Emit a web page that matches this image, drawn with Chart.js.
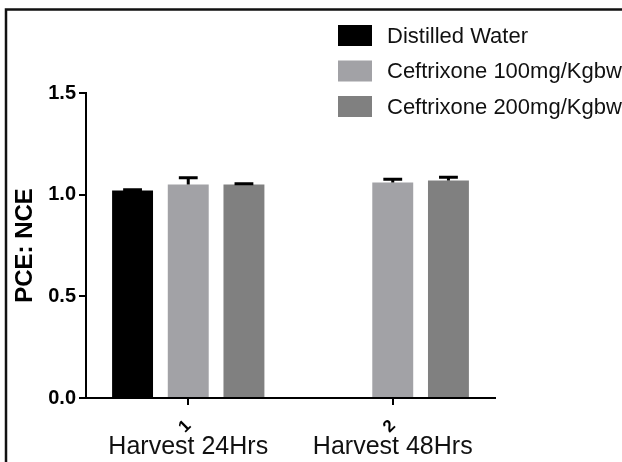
<!DOCTYPE html>
<html>
<head>
<meta charset="utf-8">
<script src="https://cdn.jsdelivr.net/npm/chart.js@4.4.0/dist/chart.umd.min.js"></script>
<style>
  html, body { margin: 0; padding: 0; background: #fff; }
  #wrap { width: 622px; height: 462px; }
</style>
</head>
<body>
<div id="wrap"><canvas id="chart" width="622" height="462"></canvas></div>
<script>
// ---- data ----
const groupTicks = ['1', '2'];
const groupNames = ['Harvest 24Hrs', 'Harvest 48Hrs'];
const seriesNames = ['Distilled Water', 'Ceftrixone 100mg/Kgbw', 'Ceftrixone 200mg/Kgbw'];
const distilledWater = [1.02, null];
const ceftrixone100 = [1.05, 1.06];
const ceftrixone200 = [1.05, 1.07];
const distilledWaterErr = [0.004, null];
const ceftrixone100Err = [0.033, 0.016];
const ceftrixone200Err = [0.004, 0.016];
const yTicks = [0, 0.5, 1.0, 1.5];

// ---- styling ----
const colors = {
  water: '#000000',
  cef100: '#a2a2a6',
  cef200: '#808080',
  axis: '#000000',
  text: '#111111',
};
const family = "'Liberation Sans', Arial, Helvetica, sans-serif";

// thin frame around the figure (top and left edges only)
const framePlugin = {
  id: 'frame',
  afterDraw(chart) {
    const ctx = chart.ctx;
    ctx.save();
    ctx.strokeStyle = '#111';
    ctx.lineWidth = 2.5;
    ctx.beginPath();
    ctx.moveTo(6, chart.height);
    ctx.lineTo(6, 9.5);
    ctx.lineTo(chart.width, 9.5);
    ctx.stroke();
    ctx.restore();
  },
};

// SEM error bars (upper half only), from dataset.errors
const errorBarPlugin = {
  id: 'errorBars',
  afterDatasetsDraw(chart) {
    const { ctx } = chart;
    const y = chart.scales.y;
    ctx.save();
    ctx.strokeStyle = '#000';
    ctx.lineWidth = 3;
    chart.data.datasets.forEach((ds, i) => {
      const meta = chart.getDatasetMeta(i);
      meta.data.forEach((bar, j) => {
        const v = ds.data[j];
        const e = ds.errors[j];
        if (v == null || e == null) return;
        const yTop = y.getPixelForValue(v + e);
        const half = bar.width * 0.23;
        ctx.beginPath();
        ctx.moveTo(bar.x, bar.y);
        ctx.lineTo(bar.x, yTop);
        ctx.moveTo(bar.x - half, yTop);
        ctx.lineTo(bar.x + half, yTop);
        ctx.stroke();
      });
    });
    ctx.restore();
  },
};

// stacked legend in the top-right corner
const boxLegendPlugin = {
  id: 'boxLegend',
  afterDraw(chart, args, opts) {
    const ctx = chart.ctx;
    ctx.save();
    ctx.font = `${opts.fontSize}px ${family}`;
    ctx.textBaseline = 'middle';
    ctx.textAlign = 'left';
    chart.data.datasets.forEach((ds, i) => {
      const top = opts.top + i * opts.rowGap;
      ctx.fillStyle = ds.backgroundColor;
      ctx.fillRect(opts.left, top, opts.boxWidth, opts.boxHeight);
      ctx.fillStyle = colors.text;
      ctx.fillText(ds.label, opts.left + opts.boxWidth + opts.gap, top + opts.boxHeight / 2 + 1);
    });
    ctx.restore();
  },
};

const ctx = document.getElementById('chart').getContext('2d');

new Chart(ctx, {
  type: 'bar',
  data: {
    labels: groupTicks,
    datasets: [
      { label: seriesNames[0], data: distilledWater, errors: distilledWaterErr, backgroundColor: colors.water },
      { label: seriesNames[1], data: ceftrixone100, errors: ceftrixone100Err, backgroundColor: colors.cef100 },
      { label: seriesNames[2], data: ceftrixone200, errors: ceftrixone200Err, backgroundColor: colors.cef200 },
    ],
  },
  options: {
    responsive: false,
    animation: false,
    layout: { padding: { left: 0, right: 127, top: 93, bottom: 0 } },
    datasets: { bar: { categoryPercentage: 0.817, barPercentage: 0.735 } },
    plugins: {
      legend: { display: false },
      tooltip: { enabled: false },
      boxLegend: { left: 338, top: 25, boxWidth: 34, boxHeight: 21, rowGap: 35.5, gap: 15, fontSize: 22 },
    },
    scales: {
      x: {
        afterFit: (scale) => {
          scale.height = 36;
        },
        grid: { offset: false, drawOnChartArea: false, color: colors.axis, lineWidth: 2, tickLength: 7 },
        border: { color: colors.axis, width: 2 },
        ticks: {
          color: colors.axis,
          font: { family, size: 17, weight: 'bold' },
          minRotation: 45,
          maxRotation: 45,
          padding: 11,
        },
      },
      xName: {
        type: 'category',
        labels: groupNames,
        position: 'bottom',
        offset: true,
        afterFit: (scale) => {
          scale.height = 28;
        },
        grid: { display: false },
        border: { display: false },
        ticks: { color: colors.text, font: { family, size: 25 }, padding: -10, maxRotation: 0 },
      },
      y: {
        min: 0,
        max: 1.5,
        afterBuildTicks: (scale) => {
          scale.ticks = yTicks.map((v) => ({ value: v }));
        },
        afterFit: (scale) => {
          scale.width = 86;
        },
        ticks: {
          color: colors.axis,
          font: { family, size: 20, weight: 'bold' },
          padding: 3,
          callback: (v) => Number(v).toFixed(1),
        },
        grid: { drawOnChartArea: false, color: colors.axis, lineWidth: 2, tickLength: 7 },
        border: { color: colors.axis, width: 2 },
        title: {
          display: true,
          text: 'PCE: NCE',
          color: colors.axis,
          font: { family, size: 24, weight: 'bold' },
          padding: { top: 11, bottom: 0 },
        },
      },
    },
  },
  plugins: [framePlugin, errorBarPlugin, boxLegendPlugin],
});
</script>
</body>
</html>
